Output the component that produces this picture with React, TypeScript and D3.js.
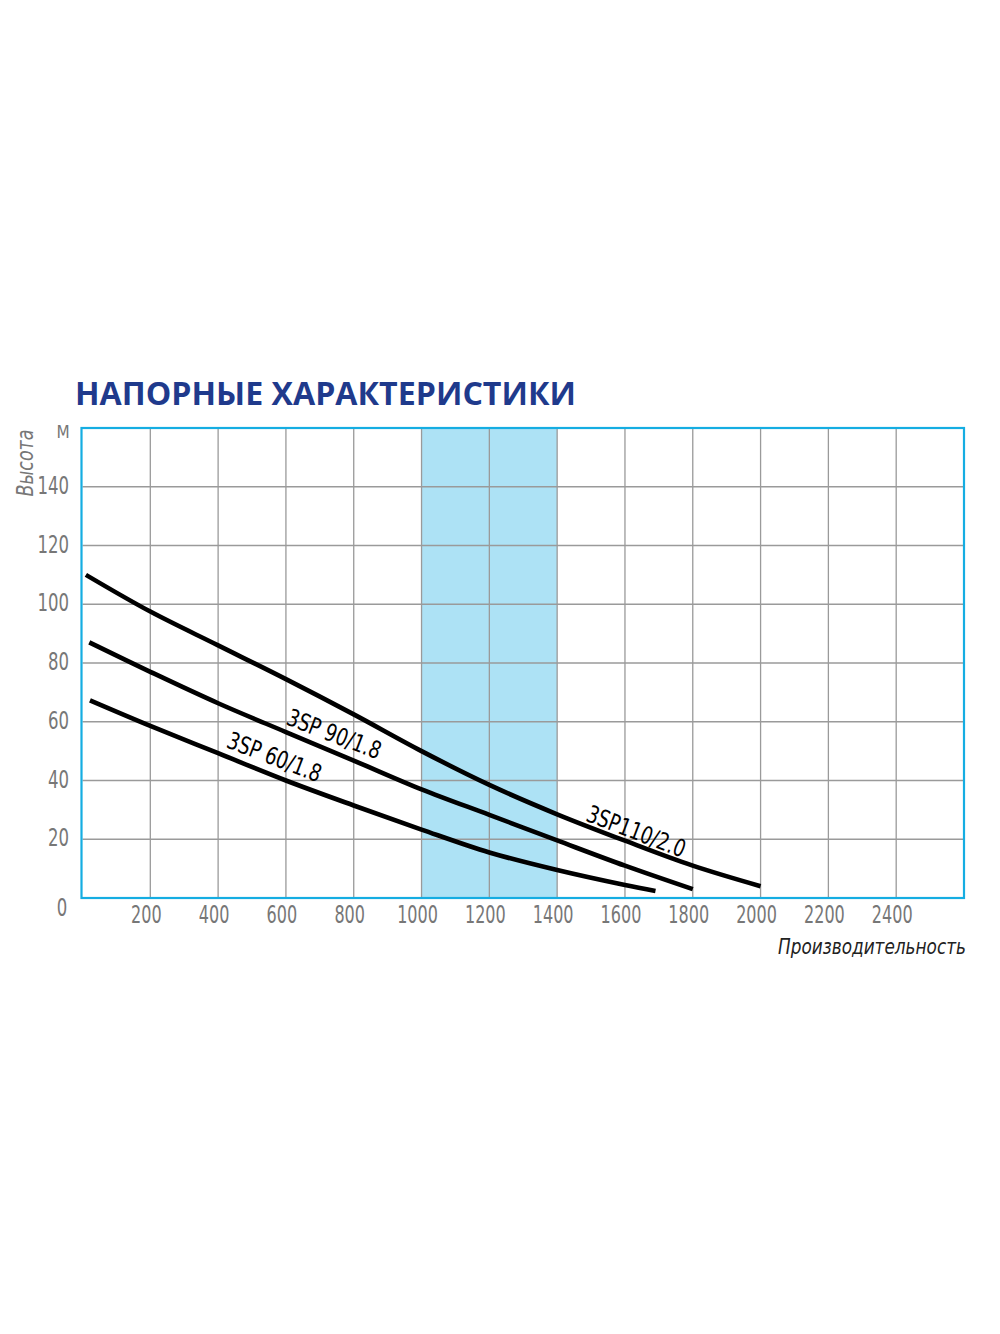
import React from 'react';
import * as d3 from 'd3';

// Напорные характеристики насосов 3SP
const flowTicks = [200, 400, 600, 800, 1000, 1200, 1400, 1600, 1800, 2000, 2200, 2400];
const headTicks = [20, 40, 60, 80, 100, 120, 140];

const q110 = [10, 200, 400, 600, 800, 1000, 1200, 1400, 1600, 1800, 2000];
const h110 = [110, 97.5, 86, 74.5, 62.5, 50, 38.5, 28.5, 19.5, 11, 4];

const q90 = [20, 200, 400, 600, 800, 1000, 1200, 1400, 1600, 1800];
const h90 = [87, 77, 66.3, 56.5, 46.8, 37, 28.3, 19.6, 11, 3];

const q60 = [22, 200, 400, 600, 800, 1000, 1200, 1400, 1600, 1690];
const h60 = [67.3, 58.6, 49.3, 40, 31.5, 23.3, 15.5, 9.5, 4.4, 2.4];

const bandFrom = 1000;
const bandTo = 1400;

const curveNames = ['3SP110/2.0', '3SP 90/1.8', '3SP 60/1.8'];
const labelQ = [1632, 741, 565];
const labelH = [22.3, 55.4, 47.6];

const narrow = "'DejaVu Sans', sans-serif";

const App = () => {
    const width = 1000;
    const height = 1334;

    const x = d3.scaleLinear().domain([0, 2600]).range([82.5, 964]);
    const y = d3.scaleLinear().domain([0, 160]).range([898, 428]);

    const line = d3.line<[number, number]>()
        .x(d => x(d[0]))
        .y(d => y(d[1]))
        .curve(d3.curveCatmullRom.alpha(0.5));

    const series = [
        q110.map((q, i) => [q, h110[i]] as [number, number]),
        q90.map((q, i) => [q, h90[i]] as [number, number]),
        q60.map((q, i) => [q, h60[i]] as [number, number]),
    ];

    const [x0, x1] = x.range();
    const [y0, y1] = y.range();

    return (
        <svg
            width={width}
            height={height}
            style={{ position: 'absolute', left: 0, top: 0, background: '#fff' }}
        >
            {/* Title */}
            <text
                x={75}
                y={405}
                fontFamily="'Open Sans', 'Noto Sans', sans-serif"
                fontWeight="bold"
                fontSize={33}
                fill="#1f3a8c"
                textLength={501}
                lengthAdjust="spacingAndGlyphs"
            >
                НАПОРНЫЕ ХАРАКТЕРИСТИКИ
            </text>

            {/* Working range band */}
            <rect
                x={x(bandFrom)}
                y={y1}
                width={x(bandTo) - x(bandFrom)}
                height={y0 - y1}
                fill="#ade2f5"
            />

            {/* Grid */}
            {flowTicks.map(t => (
                <line key={'gx' + t} x1={x(t)} x2={x(t)} y1={y1} y2={y0} stroke="#9a9a9a" strokeWidth={1.3} />
            ))}
            {headTicks.map(t => (
                <line key={'gy' + t} x1={x0} x2={x1} y1={y(t)} y2={y(t)} stroke="#9a9a9a" strokeWidth={1.3} />
            ))}

            {/* Frame */}
            <rect
                x={x0 - 1}
                y={y1}
                width={x1 - x0 + 1}
                height={y0 - y1}
                fill="none"
                stroke="#15ade2"
                strokeWidth={2.2}
            />

            {/* Curves */}
            {series.map((s, i) => (
                <path key={'c' + i} d={line(s) || ''} fill="none" stroke="#000" strokeWidth={4.6} />
            ))}

            {/* Curve labels */}
            {curveNames.map((name, i) => (
                <text
                    key={'l' + i}
                    transform={`translate(${x(labelQ[i])},${y(labelH[i])}) rotate(21)`}
                    textAnchor="middle"
                    dominantBaseline="middle"
                    fontFamily={narrow}
                    fontStretch="condensed"
                    fontSize={24}
                    fill="#000"
                    textLength={i === 0 ? 104 : 99}
                    lengthAdjust="spacingAndGlyphs"
                >
                    {name}
                </text>
            ))}

            {/* Y tick labels */}
            {headTicks.map(t => (
                <text
                    key={'ty' + t}
                    x={69}
                    y={y(t)}
                    textAnchor="end"
                    dominantBaseline="middle"
                    fontFamily={narrow}
                    fontStretch="condensed"
                    fontSize={24}
                    fill="#777"
                    textLength={String(t).length * 10.5}
                    lengthAdjust="spacingAndGlyphs"
                >
                    {t}
                </text>
            ))}
            <text x={62} y={916} textAnchor="middle" fontFamily={narrow} fontStretch="condensed" fontSize={24} fill="#777" textLength={10.5} lengthAdjust="spacingAndGlyphs">0</text>
            <text x={63} y={438} textAnchor="middle" fontFamily={narrow} fontStretch="condensed" fontSize={17} fill="#777">М</text>

            {/* X tick labels */}
            {flowTicks.map(t => (
                <text
                    key={'tx' + t}
                    x={x(t) - 4}
                    y={923}
                    textAnchor="middle"
                    fontFamily={narrow}
                    fontStretch="condensed"
                    fontSize={24}
                    fill="#777"
                    textLength={String(t).length * 10.2}
                    lengthAdjust="spacingAndGlyphs"
                >
                    {t}
                </text>
            ))}

            {/* Axis titles */}
            <text
                transform="translate(33,463) rotate(-90)"
                textAnchor="middle"
                fontFamily={narrow}
                fontStretch="condensed"
                fontStyle="italic"
                fontSize={23}
                fill="#777"
                textLength={67}
                lengthAdjust="spacingAndGlyphs"
            >
                Высота
            </text>
            <text
                x={966}
                y={954}
                textAnchor="end"
                fontFamily={narrow}
                fontStretch="condensed"
                fontStyle="italic"
                fontSize={21}
                fill="#222"
                textLength={188}
                lengthAdjust="spacingAndGlyphs"
            >
                Производительность
            </text>
        </svg>
    );
};

export default App;
